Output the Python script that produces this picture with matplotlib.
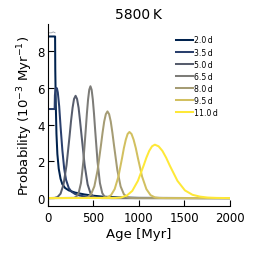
import numpy as np
import matplotlib
matplotlib.use("Agg")
import matplotlib.pyplot as plt

# ---- data (age in Myr, probability in 1e-3 / Myr) ----
periods = ["2.0\u2009d", "3.5\u2009d", "5.0\u2009d", "6.5\u2009d", "8.0\u2009d", "9.5\u2009d", "11.0\u2009d"]

age_20 = [0, 78, 80, 82, 88, 95, 105, 120, 140, 160, 190, 230, 300, 400, 500, 600, 800, 1000, 2000]
prob_20 = [8.8, 8.8, 8.8, 7.0, 5.0, 3.5, 2.4, 1.6, 1.05, 0.75, 0.55, 0.42, 0.3, 0.2, 0.13, 0.08, 0.03, 0.01, 0]

age_35 = [0, 75, 78, 85, 92, 100, 110, 125, 140, 160, 180, 200, 230, 260, 300, 350, 400, 500, 700, 2000]
prob_35 = [4.85, 4.85, 5.6, 5.9, 6.0, 5.98, 5.75, 5.0, 3.9, 2.6, 1.6, 1.0, 0.55, 0.35, 0.22, 0.14, 0.09, 0.04, 0.01, 0]

age_50 = [0, 74, 107, 140, 173, 206, 239, 255, 272, 288, 305, 321, 338, 354, 371, 404, 437,
          470, 503, 536, 600, 2000]
prob_50 = [0, 0.01, 0.06, 0.24, 0.75, 1.81, 3.38, 4.2, 4.92, 5.4, 5.57, 5.4, 4.92, 4.2, 3.38,
           1.81, 0.75, 0.24, 0.06, 0.01, 0, 0]
# faint early plateau of the 5.0 d curve
age_50_early = [0, 40, 60, 80]
prob_50_early = [9.0, 9.0, 9.05, 9.0]

age_65 = [0, 286, 312, 338, 364, 390, 416, 429, 442, 455, 468, 481, 494, 507, 520, 546, 572, 598, 624, 650,
          700, 2000]
prob_65 = [0, 0.01, 0.07, 0.27, 0.82, 1.98, 3.69, 4.6, 5.37, 5.9, 6.09, 5.9, 5.37, 4.6, 3.69, 1.98, 0.82, 0.27,
           0.07, 0.01, 0, 0]

age_80 = [0, 403, 439, 475, 511, 547, 583, 601, 619, 637, 655, 673, 691, 709, 727, 763, 799, 835, 871, 907,
          960, 2000]
prob_80 = [0, 0.01, 0.05, 0.21, 0.64, 1.53, 2.86, 3.56, 4.17, 4.57, 4.72, 4.57, 4.17, 3.56, 2.86, 1.53, 0.64,
           0.21, 0.05, 0.01, 0, 0]

age_95 = [0, 613, 653, 694, 734, 775, 815, 835, 856, 876, 896, 919, 942, 966, 989, 1035, 1082, 1128, 1175,
          1221, 1300, 2000]
prob_95 = [0, 0.01, 0.04, 0.16, 0.49, 1.17, 2.18, 2.72, 3.18, 3.49, 3.6, 3.49, 3.18, 2.72, 2.18, 1.17, 0.49,
           0.16, 0.04, 0.01, 0, 0]

age_110 = [0, 741, 803, 865, 927, 989, 1051, 1082, 1113, 1144, 1175, 1216, 1258, 1299, 1340, 1423, 1505, 1588,
           1670, 1753, 1850, 2000]
prob_110 = [0, 0.01, 0.03, 0.13, 0.39, 0.94, 1.76, 2.2, 2.57, 2.82, 2.91, 2.82, 2.57, 2.2, 1.76, 0.94, 0.42,
            0.18, 0.08, 0.03, 0.01, 0]

ages = [age_20, age_35, age_50, age_65, age_80, age_95, age_110]
probs = [prob_20, prob_35, prob_50, prob_65, prob_80, prob_95, prob_110]

xticks = [0, 500, 1000, 1500, 2000]
yticks = [0, 2, 4, 6, 8]

# ======================================================================================================

colors = plt.cm.cividis(np.linspace(0, 1, len(periods)))

fig = plt.figure(figsize=(2.57, 2.55), dpi=100)
ax = fig.add_axes([0.186, 0.189, 0.709, 0.713])

ax.plot(age_50_early, prob_50_early, color=colors[2], lw=0.6, alpha=0.6)
for a, p, c, lab in zip(ages, probs, colors, periods):
    ax.plot(a, p, color=c, lw=1.45, label=lab)

ax.set_xlim(0, 2000)
ax.set_ylim(-0.42, 9.48)
ax.set_xticks(xticks)
ax.set_yticks(yticks)
ax.tick_params(direction="in", length=4.3, width=0.8, labelsize=8.5)
ax.tick_params(axis="y", pad=2)
ax.tick_params(axis="x", pad=4)
for s in ["top", "right"]:
    ax.spines[s].set_visible(False)
for s in ["left", "bottom"]:
    ax.spines[s].set_linewidth(0.8)

ax.set_xlabel("Age [Myr]", fontsize=9.5, labelpad=2)
ax.set_ylabel("Probability ($10^{-3}$ Myr$^{-1}$)", fontsize=9.5, labelpad=2)
ax.set_title("5800\u2009K", fontsize=10, pad=4)

ax.legend(loc="upper left", bbox_to_anchor=(175.7 / 257, 0.857), bbox_transform=fig.transFigure,
          frameon=False, fontsize=5.6, handlelength=2.25, handletextpad=0.15,
          labelspacing=0.4, borderpad=0, borderaxespad=0)

fig.savefig("out.png", dpi=100)
